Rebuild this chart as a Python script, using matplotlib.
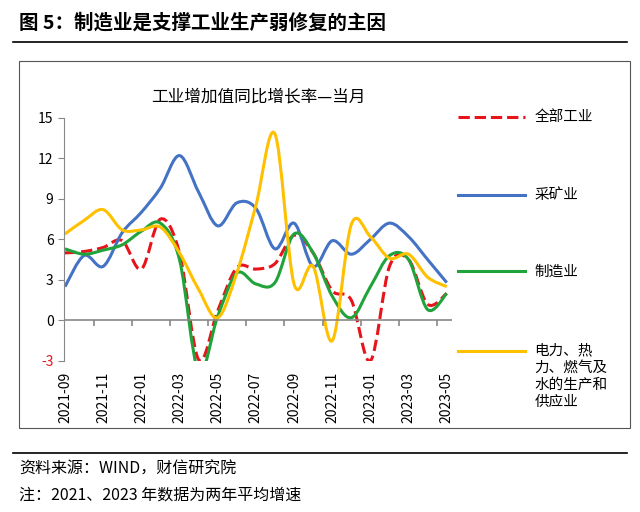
import numpy as np
import matplotlib
matplotlib.use('Agg')
import matplotlib.pyplot as plt
from matplotlib.path import Path
from matplotlib.patches import PathPatch, Rectangle
from matplotlib.lines import Line2D

plt.rcParams['font.family'] = ['Noto Sans CJK SC', 'DejaVu Sans']

months = ['2021-09', '2021-10', '2021-11', '2021-12', '2022-01', '2022-02', '2022-03',
          '2022-04', '2022-05', '2022-06', '2022-07', '2022-08', '2022-09', '2022-10',
          '2022-11', '2022-12', '2023-01', '2023-02', '2023-03', '2023-04', '2023-05']
total = [5.0, 5.1, 5.4, 5.9, 3.8, 7.5, 5.0, -2.9, 0.7, 3.9, 3.8, 4.2, 6.3, 5.0,
         2.2, 1.5, -3.0, 4.0, 4.5, 1.2, 2.0]
mining = [2.5, 4.8, 4.0, 6.5, 8.0, 9.8, 12.2, 9.5, 7.0, 8.7, 8.3, 5.3, 7.2, 4.0,
          5.9, 4.9, 6.0, 7.2, 6.2, 4.5, 2.8]
manuf = [5.3, 4.9, 5.2, 5.6, 6.6, 7.2, 4.5, -3.8, 0.3, 3.5, 2.7, 2.8, 6.4, 5.0,
         1.8, 0.2, 2.5, 4.8, 4.5, 0.8, 2.0]
power = [6.4, 7.4, 8.2, 6.7, 6.7, 6.9, 5.0, 2.3, 0.2, 3.5, 8.5, 13.8, 2.7, 4.0,
         -1.5, 7.1, 6.2, 4.6, 4.9, 3.2, 2.5]

series = [
    ('全部工业', total, '#e8141b', '--'),
    ('采矿业', mining, '#4472c4', '-'),
    ('制造业', manuf, '#1fa33a', '-'),
    ('电力、热\n力、燃气及\n水的生产和\n供应业', power, '#ffc000', '-'),
]


def smooth_path(x, y):
    # Catmull-Rom style bezier through the monthly points (like Excel smoothed lines)
    pts = np.column_stack([x, y])
    verts = [pts[0]]
    codes = [Path.MOVETO]
    n = len(pts)
    for i in range(n - 1):
        p0 = pts[i - 1] if i > 0 else pts[i]
        p1, p2 = pts[i], pts[i + 1]
        p3 = pts[i + 2] if i + 2 < n else pts[i + 1]
        c1 = p1 + (p2 - p0) / 6
        c2 = p2 - (p3 - p1) / 6
        verts += [c1, c2, p2]
        codes += [Path.CURVE4] * 3
    return Path(verts, codes)


fig = plt.figure(figsize=(6.4, 5.12), dpi=100)
fig.text(0.03, 0.955, '图 5：制造业是支撑工业生产弱修复的主因', fontsize=14,
         fontweight='bold', va='center')
fig.add_artist(Line2D([0.02, 0.98], [0.918, 0.918], color='black', lw=1.2))
fig.add_artist(Rectangle((0.03, 0.165), 0.955, 0.715, fill=False,
                         edgecolor='#555555', lw=0.8))
fig.add_artist(Line2D([0.02, 0.98], [0.115, 0.115], color='black', lw=1.2))
fig.text(0.03, 0.083, '资料来源：WIND，财信研究院', fontsize=11.5, va='center')
fig.text(0.03, 0.033, '注：2021、2023 年数据为两年平均增速', fontsize=11.5, va='center')

ax = fig.add_axes([0.1, 0.295, 0.607, 0.475])
x = np.arange(len(months))
for name, vals, color, ls in series:
    patch = PathPatch(smooth_path(x, vals), facecolor='none', edgecolor=color,
                      lw=2.2, linestyle=ls)
    ax.add_patch(patch)
    patch.set_clip_on(True)

ax.set_xlim(-0.05, 20.3)
ax.set_ylim(-3, 15)
ax.set_yticks([-3, 0, 3, 6, 9, 12, 15])
ax.set_yticklabels(['-3', '0', '3', '6', '9', '12', '15'], fontsize=10)
ax.get_yticklabels()[0].set_color('#e8141b')
ax.set_xticks(x[::2])
ax.set_xticklabels(months[::2], rotation=90, fontsize=10)
ax.tick_params(axis='x', length=0, pad=8)
ax.tick_params(axis='y', length=4, color='#888888')
for s in ['top', 'right', 'bottom']:
    ax.spines[s].set_visible(False)
ax.spines['left'].set_color('#888888')
ax.axhline(0, color='#888888', lw=1.2)
ax.vlines(x[2::2] - 0.5, -0.4, 0, color='#888888', lw=1.2)
ax.set_title('工业增加值同比增长率—当月', fontsize=12, pad=12)

legend_y = [0.772, 0.62, 0.47, 0.315]
for (name, vals, color, ls), ly in zip(series, legend_y):
    fig.add_artist(Line2D([0.715, 0.82], [ly, ly], color=color, lw=2.2, linestyle=ls))
    fig.text(0.835, ly, name, fontsize=10.5, va='top' if '\n' in name else 'center',
             linespacing=1.3, transform=fig.transFigure)
fig.texts[-1].set_y(legend_y[-1] + 0.015)

fig.savefig('out.png', dpi=100)
